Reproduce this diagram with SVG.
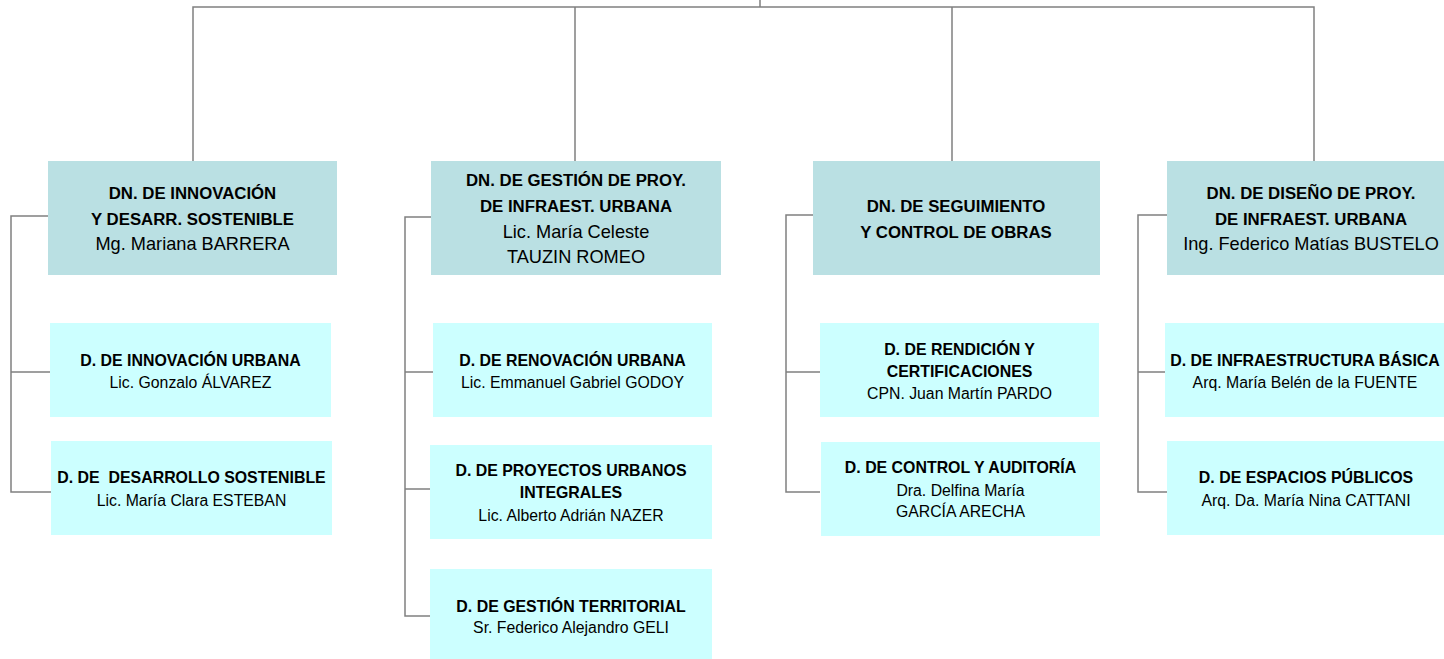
<svg xmlns="http://www.w3.org/2000/svg" width="1444" height="659" viewBox="0 0 1444 659">
<style>
.ln{fill:none;stroke:#808080;stroke-width:1.5}
.top{fill:#BAE0E3}
.ch{fill:#CCFFFF}
text{font-family:"Liberation Sans",Arial,sans-serif;fill:#000;text-anchor:middle}
.tb{font-size:16.8px;font-weight:bold}
.tr{font-size:18.2px}
.cb{font-size:15.9px;font-weight:bold}
.cr{font-size:15.8px}
</style>
<rect width="1444" height="659" fill="#fff"/>
<g id="connectors">
<path class="ln" d="M760,0V7M193,161V7H1314V161M575,7V161M952,7V161"/>
<path class="ln" d="M48,216H11V492H51M11,372H50"/>
<path class="ln" d="M431,217H405V616H430M405,372H433M405,489H430"/>
<path class="ln" d="M813,215H786V492H820M786,372H820"/>
<path class="ln" d="M1167,215H1138V492H1167M1138,372H1165"/>
</g>
<g id="n1"><rect class="top" x="48" y="161" width="289" height="114"/>
<text class="tb" x="192.5" y="199">DN. DE INNOVACIÓN</text>
<text class="tb" x="192.5" y="225">Y DESARR. SOSTENIBLE</text>
<text class="tr" x="192.5" y="250">Mg. Mariana BARRERA</text></g>
<g id="n2"><rect class="top" x="431" y="161" width="290" height="114"/>
<text class="tb" x="576" y="186">DN. DE GESTIÓN DE PROY.</text>
<text class="tb" x="576" y="212">DE INFRAEST. URBANA</text>
<text class="tr" x="576" y="238">Lic. María Celeste</text>
<text class="tr" x="576" y="263">TAUZIN ROMEO</text></g>
<g id="n3"><rect class="top" x="813" y="161" width="287" height="114"/>
<text class="tb" x="956" y="212">DN. DE SEGUIMIENTO</text>
<text class="tb" x="956" y="238">Y CONTROL DE OBRAS</text></g>
<g id="n4"><rect class="top" x="1167" y="161" width="289" height="114"/>
<text class="tb" x="1311" y="199">DN. DE DISEÑO DE PROY.</text>
<text class="tb" x="1311" y="225">DE INFRAEST. URBANA</text>
<text class="tr" x="1311" y="250">Ing. Federico Matías BUSTELO</text></g>
<g id="c1a"><rect class="ch" x="50" y="323" width="281" height="94"/>
<text class="cb" x="190.5" y="366">D. DE INNOVACIÓN URBANA</text>
<text class="cr" x="190.5" y="388">Lic. Gonzalo ÁLVAREZ</text></g>
<g id="c1b"><rect class="ch" x="51" y="441" width="281" height="94"/>
<text class="cb" x="191.5" y="483" xml:space="preserve">D. DE  DESARROLLO SOSTENIBLE</text>
<text class="cr" x="191.5" y="506">Lic. María Clara ESTEBAN</text></g>
<g id="c2a"><rect class="ch" x="433" y="323" width="279" height="94"/>
<text class="cb" x="572.5" y="366">D. DE RENOVACIÓN URBANA</text>
<text class="cr" x="572.5" y="388">Lic. Emmanuel Gabriel GODOY</text></g>
<g id="c2b"><rect class="ch" x="430" y="445" width="282" height="94"/>
<text class="cb" x="571" y="476">D. DE PROYECTOS URBANOS</text>
<text class="cb" x="571" y="498">INTEGRALES</text>
<text class="cr" x="571" y="521">Lic. Alberto Adrián NAZER</text></g>
<g id="c2c"><rect class="ch" x="430" y="569" width="282" height="92"/>
<text class="cb" x="571" y="612">D. DE GESTIÓN TERRITORIAL</text>
<text class="cr" x="571" y="633">Sr. Federico Alejandro GELI</text></g>
<g id="c3a"><rect class="ch" x="820" y="323" width="279" height="94"/>
<text class="cb" x="959.5" y="355">D. DE RENDICIÓN Y</text>
<text class="cb" x="959.5" y="377">CERTIFICACIONES</text>
<text class="cr" x="959.5" y="399">CPN. Juan Martín PARDO</text></g>
<g id="c3b"><rect class="ch" x="821" y="442" width="279" height="94"/>
<text class="cb" x="960.5" y="473">D. DE CONTROL Y AUDITORÍA</text>
<text class="cr" x="960.5" y="496">Dra. Delfina María</text>
<text class="cr" x="960.5" y="517">GARCÍA ARECHA</text></g>
<g id="c4a"><rect class="ch" x="1165" y="323" width="280" height="94"/>
<text class="cb" x="1305" y="366">D. DE INFRAESTRUCTURA BÁSICA</text>
<text class="cr" x="1305" y="388">Arq. María Belén de la FUENTE</text></g>
<g id="c4b"><rect class="ch" x="1167" y="441" width="278" height="94"/>
<text class="cb" x="1306" y="483">D. DE ESPACIOS PÚBLICOS</text>
<text class="cr" x="1306" y="506">Arq. Da. María Nina CATTANI</text></g>
</svg>
